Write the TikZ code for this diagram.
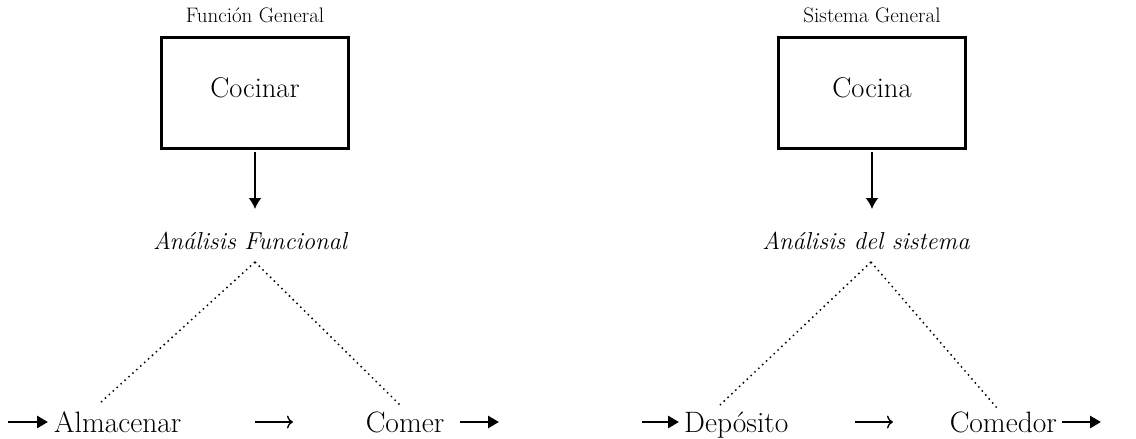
\documentclass[tikz,border=0pt]{standalone}
\usetikzlibrary{arrows.meta}
\begin{document}
\begin{tikzpicture}[x=1pt,y=-1pt,
  boxshape/.style={draw, line width=2.3pt, minimum width=187pt, minimum height=111pt, inner sep=0pt},
  bigtxt/.style={font=\fontsize{28.5}{32}\selectfont, inner sep=0pt, anchor=base},
  rowtxt/.style={font=\fontsize{29.5}{34}\selectfont, inner sep=0pt, anchor=base},
  titletxt/.style={font=\fontsize{21}{25}\selectfont, inner sep=0pt, anchor=base},
  antxt/.style={font=\fontsize{24.5}{29}\selectfont\itshape, inner sep=0pt, anchor=base},
  varrow/.style={line width=1.8pt, -{Latex[length=11pt 0,width=13pt 0]}},
  thickarrow/.style={line width=2.8pt, -{Triangle[length=11pt 0,width=12pt 0]}},
  thinarrow/.style={line width=1.4pt, -{To[length=6pt 0,width=13pt 0]}},
  dots/.style={line width=1.5pt, dash pattern=on 1.5pt off 3.8pt}
]
\useasboundingbox (0,0) rectangle (1136,439);

% ---------- left half ----------
\node[titletxt] (tl) at (255,23) {Función General};
\node[boxshape] (b1) at (255,93) {};
\node[bigtxt] (t1) at (255,97) {Cocinar};
\coordinate (v1) at (255,209);
\draw[varrow] (b1.south) ++(0,2) -- (v1);
\node[antxt] (a1) at (250,249) {Análisis Funcional};
\coordinate (ap1) at (255,262);
\coordinate (l1) at (100,403);
\coordinate (r1) at (400,405);
\draw[dots] (ap1) -- (l1);
\draw[dots] (ap1) -- (r1);
\node[rowtxt, anchor=base west] (alm) at (54,432) {Almacenar};
\node[rowtxt] (com) at (405,432) {Comer};
\coordinate (i1) at (8,422);
\coordinate (i1e) at (48,422);
\draw[thickarrow] (i1) -- (i1e);
\coordinate (m1s) at (255,422);
\coordinate (m1e) at (293,422);
\draw[thinarrow] (m1s) -- (m1e);
\coordinate (o1s) at (460,422);
\coordinate (o1e) at (499,422);
\draw[thickarrow] (o1s) -- (o1e);

% ---------- right half ----------
\node[titletxt] (tr) at (872,23) {Sistema General};
\node[boxshape] (b2) at (872,93) {};
\node[bigtxt] (t2) at (872,97) {Cocina};
\coordinate (v2) at (872,209);
\draw[varrow] (b2.south) ++(0,2) -- (v2);
\node[antxt] (a2) at (866,249) {Análisis del sistema};
\coordinate (ap2) at (871,262);
\coordinate (l2) at (720,405);
\coordinate (r2) at (997,408);
\draw[dots] (ap2) -- (l2);
\draw[dots] (ap2) -- (r2);
\node[rowtxt, anchor=base west] (dep) at (684,432) {Depósito};
\node[rowtxt, anchor=base east] (cmd) at (1057,432) {Comedor};
\coordinate (i2) at (642,422);
\coordinate (i2e) at (679,422);
\draw[thickarrow] (i2) -- (i2e);
\coordinate (m2s) at (855,422);
\coordinate (m2e) at (893,422);
\draw[thinarrow] (m2s) -- (m2e);
\coordinate (o2s) at (1062,422);
\coordinate (o2e) at (1101,422);
\draw[thickarrow] (o2s) -- (o2e);
\end{tikzpicture}
\end{document}
